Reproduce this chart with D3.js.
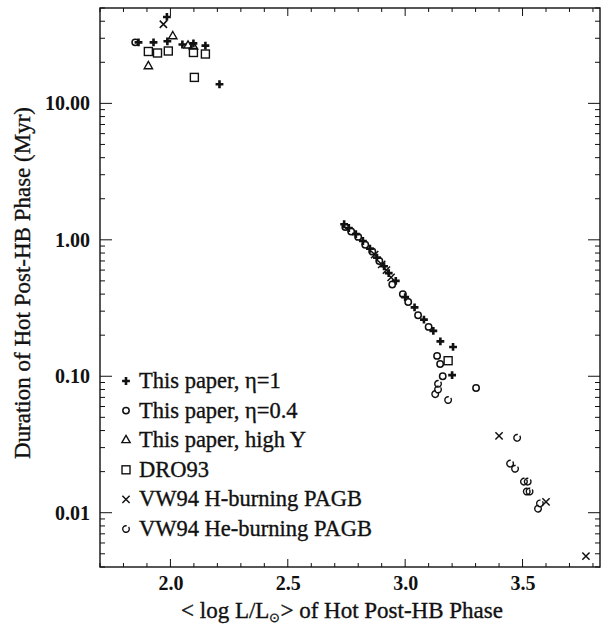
<!DOCTYPE html>
<html><head><meta charset="utf-8">
<script src="https://cdn.jsdelivr.net/npm/d3@7"></script>
<style>body{margin:0;background:#fff}svg text{font-family:"Liberation Serif","Times New Roman",serif;fill:#111}</style>
</head><body><svg id="c" width="609" height="624"></svg>
<script>
// ---- data ----
const xTicks = [2.0, 2.5, 3.0, 3.5];
const xTickLabels = ["2.0", "2.5", "3.0", "3.5"];
const yTicks = [0.01, 0.1, 1, 10];
const yTickLabels = ["0.01", "0.10", "1.00", "10.00"];
const seriesNames = ["This paper, \u03B7=1", "This paper, \u03B7=0.4", "This paper, high Y", "DRO93", "VW94 H-burning PAGB", "VW94 He-burning PAGB"];
const eta1X = [1.864, 1.928, 1.987, 2.051, 2.098, 2.149, 2.209, 1.985, 2.740, 2.760, 2.790, 2.820, 2.850, 2.880, 2.910, 2.930, 2.960, 3.000, 3.040, 3.080, 3.120, 3.150, 3.204, 3.200];
const eta1Y = [28.0, 28.0, 28.5, 27.0, 27.5, 26.5, 13.8, 43.0, 1.30, 1.22, 1.10, 0.98, 0.86, 0.74, 0.64, 0.57, 0.50, 0.38, 0.32, 0.26, 0.215, 0.18, 0.164, 0.102];
const eta04X = [1.850, 2.745, 2.770, 2.800, 2.830, 2.860, 2.890, 2.945, 2.990, 3.013, 3.055, 3.100, 3.136, 3.149, 3.160, 3.302];
const eta04Y = [28.0, 1.24, 1.15, 1.05, 0.92, 0.82, 0.70, 0.47, 0.40, 0.35, 0.28, 0.23, 0.141, 0.123, 0.100, 0.082];
const highYX = [1.906, 2.010, 2.075, 2.098];
const highYY = [18.7, 31.0, 26.5, 26.0];
const droX = [1.906, 1.945, 1.991, 2.098, 2.149, 2.102, 3.183];
const droY = [24.0, 23.4, 24.2, 23.6, 23.0, 15.5, 0.130];
const vwHX = [1.970, 2.870, 2.900, 2.920, 2.940, 3.400, 3.600, 3.770];
const vwHY = [38.0, 0.78, 0.66, 0.60, 0.53, 0.0366, 0.0120, 0.0048];
const vwHeX = [3.128, 3.140, 3.183, 3.140, 3.477, 3.447, 3.468, 3.506, 3.522, 3.518, 3.530, 3.566, 3.574];
const vwHeY = [0.074, 0.080, 0.067, 0.088, 0.0354, 0.0229, 0.0210, 0.0169, 0.0169, 0.0143, 0.0143, 0.0107, 0.0117];

// ---- layout ----
const svg = d3.select("#c");
const L = 100, R = 600, T = 8, B = 567;
const x = d3.scaleLinear().domain([1.70, 3.83]).range([L, R]);
const y = d3.scaleLog().domain([0.004, 50]).range([B, T]);

const g = svg.append("g");
g.append("rect").attr("x", L).attr("y", T).attr("width", R - L).attr("height", B - T)
  .attr("fill", "none").attr("stroke", "#111").attr("stroke-width", 1.4);

// minor/major ticks
const xMinor = d3.range(1.7, 3.81, 0.1).map(v => +v.toFixed(2));
const yMinor = [];
[0.001, 0.01, 0.1, 1, 10].forEach(d => { for (let k = 1; k <= 9; k++) { const v = d * k; if (v >= 0.004 && v <= 50) yMinor.push(v); } });

const tk = svg.append("g").attr("stroke", "#111").attr("stroke-width", 1);
xMinor.forEach(v => {
  const isMaj = xTicks.some(t => Math.abs(t - v) < 1e-6);
  const len = isMaj ? 8 : 4;
  tk.append("line").attr("x1", x(v)).attr("x2", x(v)).attr("y1", B).attr("y2", B - len);
  tk.append("line").attr("x1", x(v)).attr("x2", x(v)).attr("y1", T).attr("y2", T + len);
});
yMinor.forEach(v => {
  const isMaj = yTicks.some(t => Math.abs(Math.log10(t) - Math.log10(v)) < 1e-6);
  const len = isMaj ? 12 : 5;
  tk.append("line").attr("y1", y(v)).attr("y2", y(v)).attr("x1", L).attr("x2", L + len);
  tk.append("line").attr("y1", y(v)).attr("y2", y(v)).attr("x1", R).attr("x2", R - len);
});

// tick labels via axes (lines hidden)
const xAxis = d3.axisBottom(x).tickValues(xTicks).tickFormat((d, i) => xTickLabels[i]).tickSize(0).tickPadding(9);
const xa = svg.append("g").attr("transform", `translate(0,${B})`).call(xAxis);
xa.select(".domain").remove();
xa.selectAll("text").attr("font-size", 20).attr("font-weight", "bold").attr("font-family", "Liberation Serif");
const yAxis = d3.axisLeft(y).tickValues(yTicks).tickFormat((d, i) => yTickLabels[i]).tickSize(0).tickPadding(10);
const ya = svg.append("g").attr("transform", `translate(${L},0)`).call(yAxis);
ya.select(".domain").remove();
ya.selectAll("text").attr("font-size", 20).attr("font-weight", "bold").attr("font-family", "Liberation Serif");

// axis titles
const xt = svg.append("text").attr("x", 342).attr("y", 618).attr("text-anchor", "middle").attr("font-size", 23)
  .attr("stroke", "#111").attr("stroke-width", 0.35);
xt.append("tspan").text("< log L/L");
xt.append("tspan").text("\u2299").attr("font-size", 13).attr("dy", 4);
xt.append("tspan").text("> of Hot Post-HB Phase").attr("dy", -4);
svg.append("text").attr("transform", "translate(30,283) rotate(-90)").attr("text-anchor", "middle")
  .attr("font-size", 23).attr("stroke", "#111").attr("stroke-width", 0.35).text("Duration of Hot Post-HB Phase (Myr)");

// markers
const pg = svg.append("g");
function pts(xs, ys) { return xs.map((v, i) => [v, ys[i]]); }
const drawers = [
  (sel, px, py) => sel.append("path").attr("d", d3.symbol(d3.symbolCross, 34)()).attr("transform", `translate(${px},${py})`).attr("fill", "#111"),
  (sel, px, py) => sel.append("circle").attr("cx", px).attr("cy", py).attr("r", 3.2).attr("fill", "none").attr("stroke", "#111").attr("stroke-width", 1.5),
  (sel, px, py) => sel.append("path").attr("d", d3.symbol(d3.symbolTriangle, 30)()).attr("transform", `translate(${px},${py})`).attr("fill", "none").attr("stroke", "#111").attr("stroke-width", 1.4),
  (sel, px, py) => sel.append("rect").attr("x", px - 4).attr("y", py - 4).attr("width", 8).attr("height", 8).attr("fill", "none").attr("stroke", "#111").attr("stroke-width", 1.4),
  (sel, px, py) => sel.append("path").attr("d", d3.symbol(d3.symbolX, 36)()).attr("transform", `translate(${px},${py})`).attr("fill", "none").attr("stroke", "#111").attr("stroke-width", 1.5),
  (sel, px, py) => sel.append("path").attr("d", d3.arc()({innerRadius: 3.3, outerRadius: 3.3, startAngle: 0.9, endAngle: 2 * Math.PI + 0.2})).attr("transform", `translate(${px},${py})`).attr("fill", "none").attr("stroke", "#111").attr("stroke-width", 1.4)
];
const seriesData = [pts(eta1X, eta1Y), pts(eta04X, eta04Y), pts(highYX, highYY), pts(droX, droY), pts(vwHX, vwHY), pts(vwHeX, vwHeY)];
[3, 2, 5, 4, 1, 0].forEach(si => seriesData[si].forEach(d => drawers[si](pg, x(d[0]), y(d[1]))));

// legend
const lg = svg.append("g");
seriesNames.forEach((n, i) => {
  const cy = 381 + i * 29.6;
  drawers[i](lg, 126, cy);
  lg.append("text").attr("x", 139).attr("y", cy + 7).attr("font-size", 22.5)
    .attr("stroke", "#111").attr("stroke-width", 0.35).text(n);
});
</script></body></html>
